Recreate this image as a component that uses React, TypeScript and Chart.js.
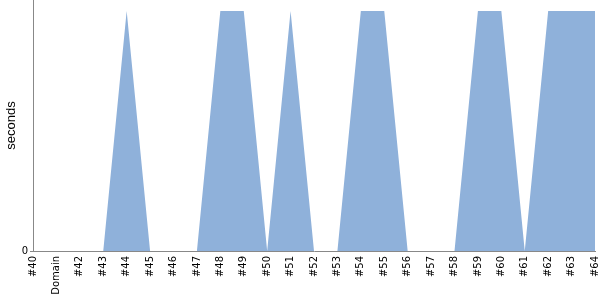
import React, { useEffect, useRef } from "react";
import { Chart, registerables } from "chart.js";

Chart.register(...registerables);

const categories = ["#40","Domain","#42","#43","#44","#45","#46","#47","#48","#49","#50","#51","#52","#53","#54","#55","#56","#57","#58","#59","#60","#61","#62","#63","#64"];
const seconds = [0,0,0,0,1,0,0,0,1,1,0,1,0,0,1,1,0,0,0,1,1,0,1,1,1];
const yTickLabels = ["0"];

export default function App() {
  const ref = useRef<HTMLCanvasElement | null>(null);
  useEffect(() => {
    if (!ref.current) return;
    const chart = new Chart(ref.current, {
      type: "line",
      data: {
        labels: categories,
        datasets: [{
          data: seconds,
          fill: "origin",
          backgroundColor: "rgb(143,177,218)",
          borderColor: "rgba(0,0,0,0)",
          borderWidth: 0,
          pointRadius: 0,
          tension: 0,
        }],
      },
      options: {
        animation: false,
        responsive: false,
        maintainAspectRatio: false,
        layout: { padding: { top: 0, right: 5, left: 0, bottom: 0 } },
        plugins: { legend: { display: false }, tooltip: { enabled: false } },
        scales: {
          x: {
            offset: false,
            grid: { display: true, drawOnChartArea: false, drawTicks: false, color: "#888" },
            border: { display: true, color: "#888" },
            ticks: {
              minRotation: 90, maxRotation: 90, autoSkip: false,
              padding: 5,
              color: "#000",
              font: { family: "DejaVu Sans", size: 10 },
            },
            afterFit: (s: any) => { s.height = 49; s.paddingLeft = 0; s.paddingRight = 0; },
          },
          y: {
            min: 0,
            max: 1.046,
            grid: { display: true, drawOnChartArea: false, drawTicks: true, tickLength: 3, color: "#888" },
            border: { display: true, color: "#888" },
            afterBuildTicks: (s: any) => { s.ticks = [{ value: 0 }]; },
            ticks: {
              padding: 2,
              color: "#000",
              font: { family: "DejaVu Sans", size: 10 },
              callback: (v: any, i: number) => yTickLabels[i] ?? "",
            },
            title: {
              display: true,
              text: "seconds",
              color: "#000",
              font: { family: "Liberation Sans", size: 13 },
              padding: { top: 4, bottom: 0 },
            },
            afterFit: (s: any) => { s.width = 33; s.paddingTop = 0; s.paddingBottom = 0; },
          },
        },
      },
    });
    return () => chart.destroy();
  }, []);
  return (
    <div style={{ position: "absolute", left: 0, top: 0, width: 600, height: 300 }}>
      <canvas ref={ref} width={600} height={300} style={{ display: "block", width: 600, height: 300 }} />
    </div>
  );
}
